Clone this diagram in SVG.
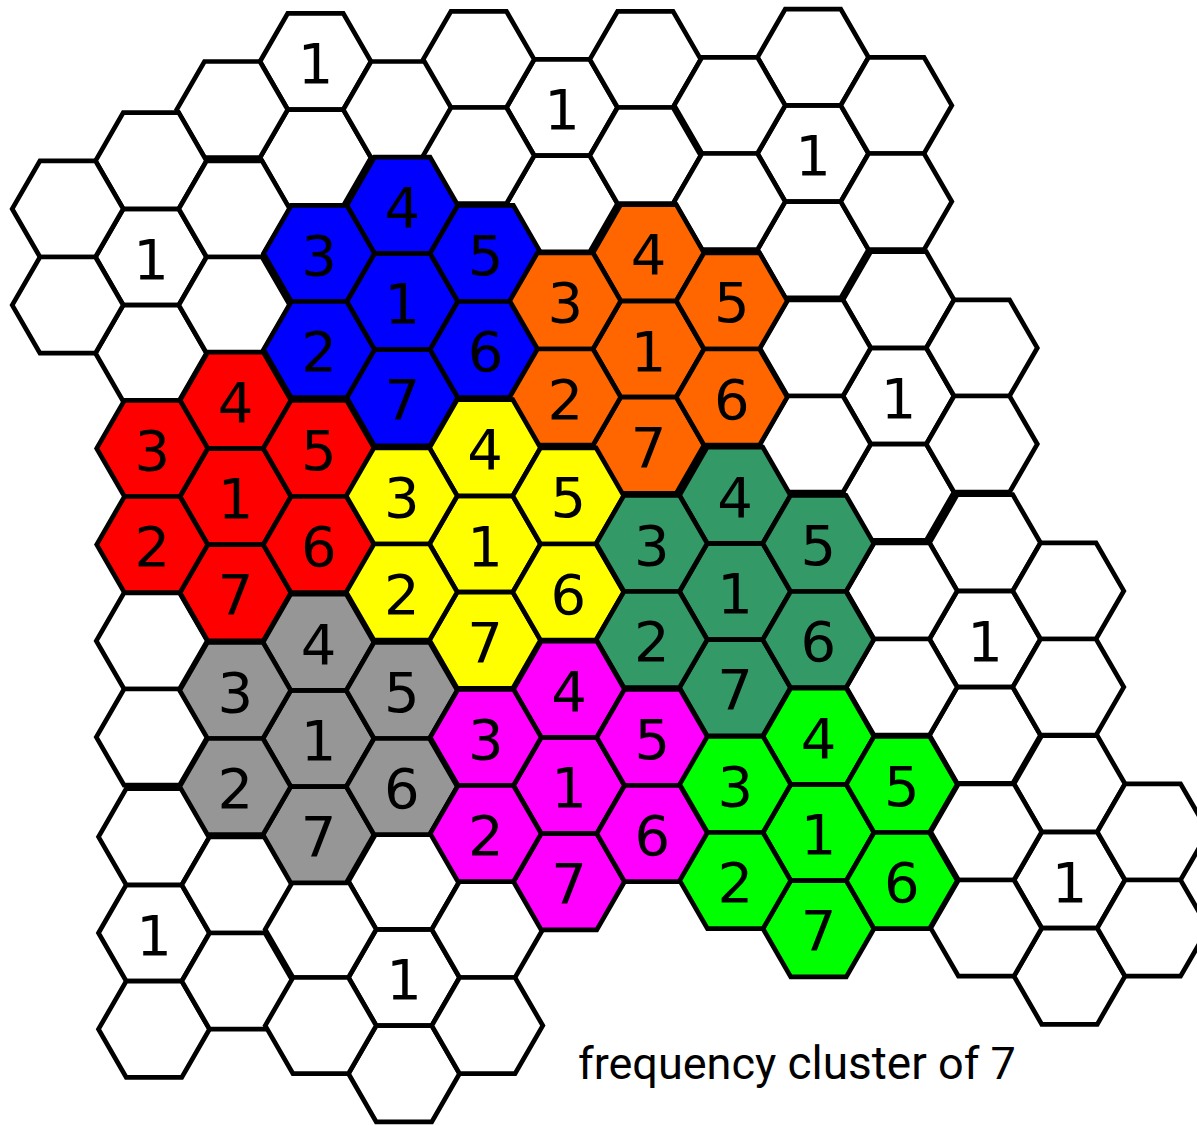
<svg xmlns="http://www.w3.org/2000/svg" width="1197" height="1126" viewBox="0 0 1197 1126">
<style>
#hx{stroke:#000;stroke-width:4.7;stroke-linejoin:miter}
.w{fill:#fff}.b{fill:#0000ff}.r{fill:#ff0000}.o{fill:#ff6600}.y{fill:#ffff00}.g{fill:#339966}.k{fill:#969696}.m{fill:#ff00ff}.l{fill:#00ff00}
.d{font-family:"DejaVu Sans",sans-serif;font-size:56px;text-anchor:middle;fill:#000}
.cap{font-family:Roboto,"Liberation Sans",sans-serif;font-size:45px;fill:#000}
</style>
<defs>
<polygon id="hx" points="-55.5,0 -27.75,-48.1 27.75,-48.1 55.5,0 27.75,48.1 -27.75,48.1"/>
</defs>
<rect width="1197" height="1126" fill="#fff"/>
<g id="white-cells">
<g id="w-2m4" transform="translate(315.5 61.5)"><use href="#hx" class="w"/><text class="d" y="21.5">1</text></g>
<g id="w-2m2" transform="translate(315.5 157.7)"><use href="#hx" class="w"/></g>
<g id="w-1m3" transform="translate(232.2 109.6)"><use href="#hx" class="w"/></g>
<g id="w-3m3" transform="translate(398.8 109.6)"><use href="#hx" class="w"/></g>

<g id="w-0-0" transform="translate(151 257)"><use href="#hx" class="w"/><text class="d" y="21.5">1</text></g>
<g id="w-0m2" transform="translate(151 160.8)"><use href="#hx" class="w"/></g>
<g id="w-0-2" transform="translate(151 353.2)"><use href="#hx" class="w"/></g>
<g id="w-m1m1" transform="translate(67.7 208.9)"><use href="#hx" class="w"/></g>
<g id="w-m1-1" transform="translate(67.7 305.1)"><use href="#hx" class="w"/></g>
<g id="w-1m1" transform="translate(234.3 208.9)"><use href="#hx" class="w"/></g>
<g id="w-1-1" transform="translate(234.3 305.1)"><use href="#hx" class="w"/></g>

<g id="w-5m3" transform="translate(562 107.5)"><use href="#hx" class="w"/><text class="d" y="21.5">1</text></g>
<g id="w-5m1" transform="translate(562 203.7)"><use href="#hx" class="w"/></g>
<g id="w-4m4" transform="translate(478.7 59.4)"><use href="#hx" class="w"/></g>
<g id="w-4m2" transform="translate(478.7 155.6)"><use href="#hx" class="w"/></g>
<g id="w-6m4" transform="translate(645.3 59.4)"><use href="#hx" class="w"/></g>
<g id="w-6m2" transform="translate(645.3 155.6)"><use href="#hx" class="w"/></g>

<g id="w-8m2" transform="translate(813 153.5)"><use href="#hx" class="w"/><text class="d" y="21.5">1</text></g>
<g id="w-8m4" transform="translate(813 57.3)"><use href="#hx" class="w"/></g>
<g id="w-8-0" transform="translate(813 249.7)"><use href="#hx" class="w"/></g>
<g id="w-7m3" transform="translate(729.7 105.4)"><use href="#hx" class="w"/></g>
<g id="w-7m1" transform="translate(729.7 201.6)"><use href="#hx" class="w"/></g>
<g id="w-9m3" transform="translate(896.3 105.4)"><use href="#hx" class="w"/></g>
<g id="w-9m1" transform="translate(896.3 201.6)"><use href="#hx" class="w"/></g>

<g id="w-9-3" transform="translate(898.5 396)"><use href="#hx" class="w"/><text class="d" y="21.5">1</text></g>
<g id="w-9-1" transform="translate(898.5 299.8)"><use href="#hx" class="w"/></g>
<g id="w-9-5" transform="translate(898.5 492.2)"><use href="#hx" class="w"/></g>
<g id="w-8-2" transform="translate(815.2 347.9)"><use href="#hx" class="w"/></g>
<g id="w-8-4" transform="translate(815.2 444.1)"><use href="#hx" class="w"/></g>
<g id="w-10-2" transform="translate(981.8 347.9)"><use href="#hx" class="w"/></g>
<g id="w-10-4" transform="translate(981.8 444.1)"><use href="#hx" class="w"/></g>

<g id="w-10-8" transform="translate(985 639)"><use href="#hx" class="w"/><text class="d" y="21.5">1</text></g>
<g id="w-10-6" transform="translate(985 542.8)"><use href="#hx" class="w"/></g>
<g id="w-10-10" transform="translate(985 735.2)"><use href="#hx" class="w"/></g>
<g id="w-9-7" transform="translate(901.7 590.9)"><use href="#hx" class="w"/></g>
<g id="w-9-9" transform="translate(901.7 687.1)"><use href="#hx" class="w"/></g>
<g id="w-11-7" transform="translate(1068.3 590.9)"><use href="#hx" class="w"/></g>
<g id="w-11-9" transform="translate(1068.3 687.1)"><use href="#hx" class="w"/></g>

<g id="w-11-13" transform="translate(1069.5 880)"><use href="#hx" class="w"/><text class="d" y="21.5">1</text></g>
<g id="w-11-11" transform="translate(1069.5 783.8)"><use href="#hx" class="w"/></g>
<g id="w-11-15" transform="translate(1069.5 976.2)"><use href="#hx" class="w"/></g>
<g id="w-10-12" transform="translate(986.2 831.9)"><use href="#hx" class="w"/></g>
<g id="w-10-14" transform="translate(986.2 928.1)"><use href="#hx" class="w"/></g>
<g id="w-12-12" transform="translate(1152.8 831.9)"><use href="#hx" class="w"/></g>
<g id="w-12-14" transform="translate(1152.8 928.1)"><use href="#hx" class="w"/></g>

<g id="w-0-14" transform="translate(154 933)"><use href="#hx" class="w"/><text class="d" y="21.5">1</text></g>
<g id="w-0-12" transform="translate(154 836.8)"><use href="#hx" class="w"/></g>
<g id="w-0-16" transform="translate(154 1029.2)"><use href="#hx" class="w"/></g>
<g id="w-1-13" transform="translate(237.3 884.9)"><use href="#hx" class="w"/></g>
<g id="w-1-15" transform="translate(237.3 981.1)"><use href="#hx" class="w"/></g>

<g id="w-3-15" transform="translate(404 977.5)"><use href="#hx" class="w"/><text class="d" y="21.5">1</text></g>
<g id="w-3-13" transform="translate(404 881.3)"><use href="#hx" class="w"/></g>
<g id="w-3-17" transform="translate(404 1073.7)"><use href="#hx" class="w"/></g>
<g id="w-2-14" transform="translate(320.7 929.4)"><use href="#hx" class="w"/></g>
<g id="w-2-16" transform="translate(320.7 1025.6)"><use href="#hx" class="w"/></g>
<g id="w-4-14" transform="translate(487.3 929.4)"><use href="#hx" class="w"/></g>
<g id="w-4-16" transform="translate(487.3 1025.6)"><use href="#hx" class="w"/></g>

<g id="w-0-8" transform="translate(151.8 640.9)"><use href="#hx" class="w"/></g>
<g id="w-0-10" transform="translate(151.8 737.1)"><use href="#hx" class="w"/></g>
</g>

<g id="blue-cluster">
<g id="blue-1" transform="translate(402.3 301.5)"><use href="#hx" class="b"/><text class="d" y="21.5">1</text></g>
<g id="blue-4" transform="translate(402.3 205.3)"><use href="#hx" class="b"/><text class="d" y="21.5">4</text></g>
<g id="blue-7" transform="translate(402.3 397.7)"><use href="#hx" class="b"/><text class="d" y="21.5">7</text></g>
<g id="blue-3" transform="translate(319 253.4)"><use href="#hx" class="b"/><text class="d" y="21.5">3</text></g>
<g id="blue-2" transform="translate(319 349.6)"><use href="#hx" class="b"/><text class="d" y="21.5">2</text></g>
<g id="blue-5" transform="translate(485.6 253.4)"><use href="#hx" class="b"/><text class="d" y="21.5">5</text></g>
<g id="blue-6" transform="translate(485.6 349.6)"><use href="#hx" class="b"/><text class="d" y="21.5">6</text></g>
</g>

<g id="red-cluster">
<g id="red-1" transform="translate(235.5 496.5)"><use href="#hx" class="r"/><text class="d" y="21.5">1</text></g>
<g id="red-4" transform="translate(235.5 400.3)"><use href="#hx" class="r"/><text class="d" y="21.5">4</text></g>
<g id="red-7" transform="translate(235.5 592.7)"><use href="#hx" class="r"/><text class="d" y="21.5">7</text></g>
<g id="red-3" transform="translate(152.2 448.4)"><use href="#hx" class="r"/><text class="d" y="21.5">3</text></g>
<g id="red-2" transform="translate(152.2 544.6)"><use href="#hx" class="r"/><text class="d" y="21.5">2</text></g>
<g id="red-5" transform="translate(318.8 448.4)"><use href="#hx" class="r"/><text class="d" y="21.5">5</text></g>
<g id="red-6" transform="translate(318.8 544.6)"><use href="#hx" class="r"/><text class="d" y="21.5">6</text></g>
</g>

<g id="orange-cluster">
<g id="orange-1" transform="translate(648.5 349)"><use href="#hx" class="o"/><text class="d" y="21.5">1</text></g>
<g id="orange-4" transform="translate(648.5 252.8)"><use href="#hx" class="o"/><text class="d" y="21.5">4</text></g>
<g id="orange-7" transform="translate(648.5 445.2)"><use href="#hx" class="o"/><text class="d" y="21.5">7</text></g>
<g id="orange-3" transform="translate(565.2 300.9)"><use href="#hx" class="o"/><text class="d" y="21.5">3</text></g>
<g id="orange-2" transform="translate(565.2 397.1)"><use href="#hx" class="o"/><text class="d" y="21.5">2</text></g>
<g id="orange-5" transform="translate(731.8 300.9)"><use href="#hx" class="o"/><text class="d" y="21.5">5</text></g>
<g id="orange-6" transform="translate(731.8 397.1)"><use href="#hx" class="o"/><text class="d" y="21.5">6</text></g>
</g>

<g id="yellow-cluster">
<g id="yellow-1" transform="translate(485 544)"><use href="#hx" class="y"/><text class="d" y="21.5">1</text></g>
<g id="yellow-4" transform="translate(485 447.8)"><use href="#hx" class="y"/><text class="d" y="21.5">4</text></g>
<g id="yellow-7" transform="translate(485 640.2)"><use href="#hx" class="y"/><text class="d" y="21.5">7</text></g>
<g id="yellow-3" transform="translate(401.7 495.9)"><use href="#hx" class="y"/><text class="d" y="21.5">3</text></g>
<g id="yellow-2" transform="translate(401.7 592.1)"><use href="#hx" class="y"/><text class="d" y="21.5">2</text></g>
<g id="yellow-5" transform="translate(568.3 495.9)"><use href="#hx" class="y"/><text class="d" y="21.5">5</text></g>
<g id="yellow-6" transform="translate(568.3 592.1)"><use href="#hx" class="y"/><text class="d" y="21.5">6</text></g>
</g>

<g id="seagreen-cluster">
<g id="seagreen-1" transform="translate(735 591.5)"><use href="#hx" class="g"/><text class="d" y="21.5">1</text></g>
<g id="seagreen-4" transform="translate(735 495.3)"><use href="#hx" class="g"/><text class="d" y="21.5">4</text></g>
<g id="seagreen-7" transform="translate(735 687.7)"><use href="#hx" class="g"/><text class="d" y="21.5">7</text></g>
<g id="seagreen-3" transform="translate(651.7 543.4)"><use href="#hx" class="g"/><text class="d" y="21.5">3</text></g>
<g id="seagreen-2" transform="translate(651.7 639.6)"><use href="#hx" class="g"/><text class="d" y="21.5">2</text></g>
<g id="seagreen-5" transform="translate(818.3 543.4)"><use href="#hx" class="g"/><text class="d" y="21.5">5</text></g>
<g id="seagreen-6" transform="translate(818.3 639.6)"><use href="#hx" class="g"/><text class="d" y="21.5">6</text></g>
</g>

<g id="gray-cluster">
<g id="gray-1" transform="translate(318.5 738.5)"><use href="#hx" class="k"/><text class="d" y="21.5">1</text></g>
<g id="gray-4" transform="translate(318.5 642.3)"><use href="#hx" class="k"/><text class="d" y="21.5">4</text></g>
<g id="gray-7" transform="translate(318.5 834.7)"><use href="#hx" class="k"/><text class="d" y="21.5">7</text></g>
<g id="gray-3" transform="translate(235.2 690.4)"><use href="#hx" class="k"/><text class="d" y="21.5">3</text></g>
<g id="gray-2" transform="translate(235.2 786.6)"><use href="#hx" class="k"/><text class="d" y="21.5">2</text></g>
<g id="gray-5" transform="translate(401.8 690.4)"><use href="#hx" class="k"/><text class="d" y="21.5">5</text></g>
<g id="gray-6" transform="translate(401.8 786.6)"><use href="#hx" class="k"/><text class="d" y="21.5">6</text></g>
</g>

<g id="magenta-cluster">
<g id="magenta-1" transform="translate(569 785.5)"><use href="#hx" class="m"/><text class="d" y="21.5">1</text></g>
<g id="magenta-4" transform="translate(569 689.3)"><use href="#hx" class="m"/><text class="d" y="21.5">4</text></g>
<g id="magenta-7" transform="translate(569 881.7)"><use href="#hx" class="m"/><text class="d" y="21.5">7</text></g>
<g id="magenta-3" transform="translate(485.7 737.4)"><use href="#hx" class="m"/><text class="d" y="21.5">3</text></g>
<g id="magenta-2" transform="translate(485.7 833.6)"><use href="#hx" class="m"/><text class="d" y="21.5">2</text></g>
<g id="magenta-5" transform="translate(652.3 737.4)"><use href="#hx" class="m"/><text class="d" y="21.5">5</text></g>
<g id="magenta-6" transform="translate(652.3 833.6)"><use href="#hx" class="m"/><text class="d" y="21.5">6</text></g>
</g>

<g id="green-cluster">
<g id="green-1" transform="translate(818.5 832.5)"><use href="#hx" class="l"/><text class="d" y="21.5">1</text></g>
<g id="green-4" transform="translate(818.5 736.3)"><use href="#hx" class="l"/><text class="d" y="21.5">4</text></g>
<g id="green-7" transform="translate(818.5 928.7)"><use href="#hx" class="l"/><text class="d" y="21.5">7</text></g>
<g id="green-3" transform="translate(735.2 784.4)"><use href="#hx" class="l"/><text class="d" y="21.5">3</text></g>
<g id="green-2" transform="translate(735.2 880.6)"><use href="#hx" class="l"/><text class="d" y="21.5">2</text></g>
<g id="green-5" transform="translate(901.8 784.4)"><use href="#hx" class="l"/><text class="d" y="21.5">5</text></g>
<g id="green-6" transform="translate(901.8 880.6)"><use href="#hx" class="l"/><text class="d" y="21.5">6</text></g>
</g>

<g id="caption">
<text class="cap" x="578" y="1079">frequency <tspan font-size="46">cluster</tspan> of 7</text>
</g>
</svg>
